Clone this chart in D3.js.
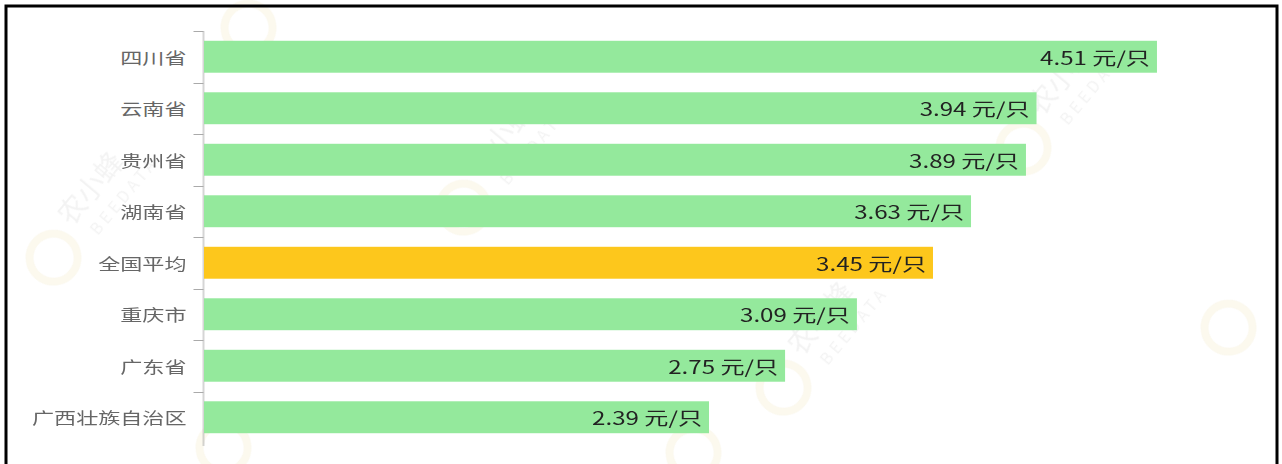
<!DOCTYPE html>
<html><head><meta charset="utf-8">
<script src="https://cdn.jsdelivr.net/npm/d3@7"></script>
<style>
html,body{margin:0;padding:0;background:#fff;}
svg{display:block;}
</style></head>
<body>
<svg id="c" width="1282" height="464"></svg>
<script>
const categories = ["四川省","云南省","贵州省","湖南省","全国平均","重庆市","广东省","广西壮族自治区"];
const values = [4.51,3.94,3.89,3.63,3.45,3.09,2.75,2.39];
const highlight = ["全国平均"];
const unit = " 元/只";
const xDomain = [0, 5];

(function(){
const svg = d3.select("#c");
const W = 1282, H = 464;
const mLeft = 203, mRight = 1260.5, mTop = 31, mBottom = 443;
const stretchCat = 1.38, stretchVal = 1.34;

// watermarks (faint)
const wm = [[470,200,true],[1030,140,true],[790,380,true],[60,250,true],[1235,320,false],[255,20,false],[230,440,false],[700,445,false]];
const wg = svg.append("g").attr("opacity",0.07);
wm.forEach(([x,y,t])=>{
  const g = wg.append("g").attr("transform",`translate(${x},${y}) rotate(-50)`);
  g.append("circle").attr("cx",-10).attr("cy",0).attr("r",24).attr("fill","none").attr("stroke","#c8a000").attr("stroke-width",8);
  if (t) {
    g.append("text").attr("x",25).attr("y",-6).attr("font-size",28).attr("font-family","Noto Sans CJK SC").attr("fill","#555").text("农小蜂");
    g.append("text").attr("x",35).attr("y",20).attr("font-size",16).attr("letter-spacing",4).attr("font-family","Noto Sans CJK SC").attr("fill","#555").text("BEEDATA");
  }
});

const y = d3.scaleBand().domain(categories).range([mTop, mBottom]).paddingInner(0.38).paddingOuter(0.19);
const x = d3.scaleLinear().domain(xDomain).range([mLeft+1, mRight]);

const yAxis = d3.axisLeft(y).tickSize(0).tickPadding(0);
const ag = svg.append("g").attr("transform",`translate(${mLeft+0.5},0)`).call(yAxis);
ag.select(".domain").remove();
ag.selectAll(".tick line").remove();
ag.selectAll(".tick text")
  .attr("x",0).attr("dy",null).attr("dominant-baseline","central")
  .attr("transform",`translate(-17,0.5) scale(${stretchCat},1)`)
  .attr("font-size",16).attr("fill","#666").attr("font-family","'Noto Sans CJK SC',sans-serif");
const step = y.step();
const bounds = d3.range(categories.length+1).map(i => mTop + i*step);
ag.append("line").attr("x1",0).attr("x2",0).attr("y1",mTop).attr("y2",mBottom+3).attr("stroke","#aaa").attr("stroke-width",1);
ag.selectAll(".bt").data(bounds.slice(0,-1)).enter().append("line")
  .attr("x1",-10).attr("x2",0).attr("y1",d=>Math.round(d)+0.5).attr("y2",d=>Math.round(d)+0.5).attr("stroke","#aaa");

svg.append("g").selectAll("rect").data(categories).enter().append("rect")
  .attr("x", x(0)).attr("y", d=>y(d)).attr("height", y.bandwidth())
  .attr("width", (d,i)=>x(values[i])-x(0))
  .attr("fill", d=> highlight.includes(d) ? "#fdc71c" : "#94e99c");

svg.append("g").selectAll("text").data(categories).enter().append("text")
  .attr("transform",(d,i)=>`translate(${x(values[i])-7},${y(d)+y.bandwidth()/2}) scale(${stretchVal},1)`)
  .attr("text-anchor","end").attr("dominant-baseline","central")
  .attr("font-size",18).attr("fill","#222").attr("font-family","'Noto Sans CJK SC',sans-serif")
  .text((d,i)=>values[i].toFixed(2)+unit);

svg.append("path").attr("d",`M6,${H+5} L6,6 L1277,6 L1277,${H+5}`).attr("fill","none").attr("stroke","#000").attr("stroke-width",3);
})();
</script>
</body></html>
